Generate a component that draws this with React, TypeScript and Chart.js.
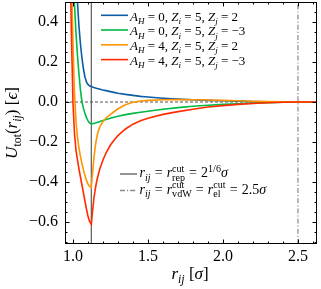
import { useEffect, useRef } from 'react';
import { Chart, registerables } from 'chart.js';

Chart.register(...registerables);

const FONT = "'Liberation Serif', 'DejaVu Serif', serif";

// separation r_ij / sigma
const r = [0.96, 0.97, 0.98, 0.99, 1.0, 1.01, 1.02, 1.03, 1.04, 1.05, 1.06, 1.07, 1.08, 1.09, 1.1, 1.11, 1.1225,
  1.13, 1.14, 1.15, 1.16, 1.17, 1.18, 1.2, 1.22, 1.25, 1.28, 1.3, 1.35, 1.4, 1.45, 1.5, 1.6, 1.7, 1.8, 1.9,
  2.0, 2.1, 2.2, 2.3, 2.4, 2.5, 2.65];

// A_H = 0, Z_i = 5, Z_j = 2
const uBlue = [2.5, 2.0, 1.65, 1.33, 1.07, 0.84, 0.65, 0.5, 0.38, 0.29, 0.22, 0.165, 0.125, 0.1, 0.088, 0.081, 0.077,
  0.0745, 0.072, 0.07, 0.068, 0.066, 0.064, 0.06, 0.057, 0.052, 0.047, 0.044, 0.038, 0.033, 0.028, 0.025, 0.019,
  0.0145, 0.011, 0.0083, 0.006, 0.0042, 0.0027, 0.0015, 0.0007, 0, 0];
// A_H = 0, Z_i = 5, Z_j = -3
const uGreen = [1.7, 1.35, 1.07, 0.84, 0.65, 0.49, 0.35, 0.235, 0.14, 0.06, 0.0, -0.032, -0.058, -0.078, -0.093, -0.104, -0.11,
  -0.1085, -0.107, -0.105, -0.1025, -0.1, -0.0975, -0.093, -0.088, -0.081, -0.075, -0.071, -0.063, -0.057, -0.051, -0.046,
  -0.036, -0.028, -0.021, -0.016, -0.012, -0.0085, -0.0055, -0.003, -0.0013, 0, 0];
// A_H = 4, Z_i = 5, Z_j = 2
const uOrange = [1.9, 1.45, 1.02, 0.62, 0.3, 0.05, -0.095, -0.175, -0.23, -0.272, -0.308, -0.34, -0.368, -0.392, -0.41, -0.421, -0.4275,
  -0.36, -0.28, -0.215, -0.172, -0.143, -0.123, -0.098, -0.08, -0.062, -0.045, -0.034, -0.014, -0.001, 0.005, 0.008,
  0.011, 0.012, 0.0115, 0.01, 0.008, 0.006, 0.004, 0.0025, 0.001, 0, 0];
// A_H = 4, Z_i = 5, Z_j = -3
const uRed = [1.8, 1.25, 0.74, 0.33, 0.0, -0.155, -0.24, -0.29, -0.335, -0.375, -0.415, -0.455, -0.495, -0.535, -0.57, -0.596, -0.6125,
  -0.55, -0.48, -0.43, -0.39, -0.36, -0.333, -0.29, -0.255, -0.215, -0.185, -0.168, -0.135, -0.111, -0.094, -0.081,
  -0.062, -0.048, -0.036, -0.025, -0.018, -0.012, -0.007, -0.0035, -0.0012, 0, 0];

const aH = [0, 0, 4, 4];
const zI = [5, 5, 5, 5];
const zJ = [2, -3, 2, -3];
const seriesColors = ['#0C5DA5', '#00B945', '#FF9500', '#FF2C00'];

const rCutRep = Math.pow(2, 1 / 6);
const rCutLong = 2.5;

const xMin = 0.947;
const xMax = 2.627;
const yMin = -0.71;
const yMax = 0.5;
const xTicks = [1.0, 1.5, 2.0, 2.5];
const xTickLabels = ['1.0', '1.5', '2.0', '2.5'];
const yTicks = [-0.6, -0.4, -0.2, 0.0, 0.2, 0.4];
const yTickLabels = ['\u22120.6', '\u22120.4', '\u22120.2', '0.0', '0.2', '0.4'];
const xMinorStep = 0.1;
const yMinorStep = 0.05;

type Seg = { t: string; it?: boolean; lv?: number; stack?: boolean; pad?: number };

function drawMath(ctx: CanvasRenderingContext2D, segs: Seg[], x: number, y: number, size: number,
  align: 'left' | 'center', scr = 0.7) {
  const items: { t: string; font: string; x: number; dy: number }[] = [];
  let cx = 0;
  let pendingW = -1;
  for (const s of segs) {
    const fs = s.lv ? size * scr : size;
    const font = `${s.it ? 'italic ' : ''}${fs.toFixed(2)}px ${FONT}`;
    ctx.font = font;
    const w = ctx.measureText(s.t).width;
    const dy = s.lv === 1 ? -size * 0.4 : s.lv === -1 ? size * 0.25 : 0;
    const pad = s.pad || 0;
    cx += pad;
    items.push({ t: s.t, font, x: cx, dy });
    if (s.stack) pendingW = w;
    else if (pendingW >= 0) { cx += Math.max(w, pendingW); pendingW = -1; }
    else cx += w;
    cx += pad;
  }
  const x0 = align === 'center' ? x - cx / 2 : x;
  ctx.textAlign = 'left';
  ctx.textBaseline = 'alphabetic';
  for (const it of items) {
    ctx.font = it.font;
    ctx.fillText(it.t, x0 + it.x, y + it.dy);
  }
  return cx;
}

const fmt = (v: number) => (v < 0 ? '\u2212' + Math.abs(v) : String(v));

const legendRows: Seg[][] = aH.map((a, i) => [
  { t: 'A', it: true }, { t: 'H', it: true, lv: -1 }, { t: ' = ' + fmt(a) + ', ' },
  { t: 'Z', it: true }, { t: 'i', it: true, lv: -1 }, { t: ' = ' + fmt(zI[i]) + ', ' },
  { t: 'Z', it: true }, { t: 'j', it: true, lv: -1 }, { t: ' = ' + fmt(zJ[i]) },
]);

const EQ: Seg = { t: ' = ', pad: 0.6 };
const cutRows: Seg[][] = [
  [{ t: 'r', it: true }, { t: 'ij', it: true, lv: -1 }, EQ, { t: 'r', it: true },
    { t: 'cut', lv: 1, stack: true }, { t: 'rep', lv: -1 }, EQ, { t: '2' }, { t: '1/6', lv: 1 }, { t: '\u03c3', it: true }],
  [{ t: 'r', it: true }, { t: 'ij', it: true, lv: -1 }, EQ, { t: 'r', it: true },
    { t: 'cut', lv: 1, stack: true }, { t: 'vdW', lv: -1 }, EQ, { t: 'r', it: true },
    { t: 'cut', lv: 1, stack: true }, { t: 'el', lv: -1 }, EQ, { t: String(rCutLong) }, { t: '\u03c3', it: true }],
];

const decor = {
  id: 'decor',
  afterDraw(chart: any) {
    const { ctx, chartArea: a, scales } = chart;
    const xs = scales.x;
    const ys = scales.y;
    ctx.save();
    ctx.setLineDash([]);

    // legend of the curves
    const l1Lines = [15.3, 30.0, 44.8, 59.6];
    legendRows.forEach((row, i) => {
      ctx.fillStyle = seriesColors[i];
      ctx.fillRect(101, l1Lines[i] - 0.8, 27, 1.6);
    });
    ctx.fillStyle = '#000';
    legendRows.forEach((row, i) => drawMath(ctx, row, 130, l1Lines[i] + 5.3, 13, 'left'));

    // legend of the cut-off lines
    const l2Lines = [174, 190.5];
    const l2Dash = [[], [5, 2, 1.2, 2]];
    const l2Col = ['#5b5b5b', '#8a8a8a'];
    cutRows.forEach((row, i) => {
      ctx.beginPath();
      ctx.strokeStyle = l2Col[i];
      ctx.lineWidth = 1.3;
      ctx.setLineDash(l2Dash[i]);
      ctx.moveTo(120, l2Lines[i]);
      ctx.lineTo(137, l2Lines[i]);
      ctx.stroke();
    });
    ctx.setLineDash([]);
    ctx.fillStyle = '#000';
    cutRows.forEach((row, i) => drawMath(ctx, row, 139.5, l2Lines[i] + 3.4, 14, 'left', 0.72));

    // frame and inward ticks
    ctx.strokeStyle = '#000';
    ctx.lineWidth = 1;
    ctx.strokeRect(a.left + 0.5, a.top + 0.5, a.right - a.left - 1, a.bottom - a.top - 1);
    const MAJ = 4.5;
    const MIN = 2.5;
    ctx.beginPath();
    const xTick = (v: number, len: number) => {
      const p = Math.round(xs.getPixelForValue(v)) + 0.5;
      if (p < a.left + 1 || p > a.right - 1) return;
      ctx.moveTo(p, a.bottom); ctx.lineTo(p, a.bottom - len);
      ctx.moveTo(p, a.top); ctx.lineTo(p, a.top + len);
    };
    const yTick = (v: number, len: number) => {
      const p = Math.round(ys.getPixelForValue(v)) + 0.5;
      if (p < a.top + 1 || p > a.bottom - 1) return;
      ctx.moveTo(a.left, p); ctx.lineTo(a.left + len, p);
      ctx.moveTo(a.right, p); ctx.lineTo(a.right - len, p);
    };
    xTicks.forEach((v) => xTick(v, MAJ));
    for (let k = Math.ceil(xMin / xMinorStep); k * xMinorStep <= xMax; k++) {
      const v = k * xMinorStep;
      if (xTicks.some((t) => Math.abs(t - v) < 1e-6)) continue;
      xTick(v, MIN);
    }
    yTicks.forEach((v) => yTick(v, MAJ));
    for (let k = Math.ceil(yMin / yMinorStep); k * yMinorStep <= yMax + 1e-9; k++) {
      const v = k * yMinorStep;
      if (yTicks.some((t) => Math.abs(t - v) < 1e-6)) continue;
      yTick(v, MIN);
    }
    ctx.stroke();
    ctx.beginPath();

    // axis titles
    ctx.fillStyle = '#000';
    drawMath(ctx, [{ t: 'r', it: true }, { t: 'ij', it: true, lv: -1 }, { t: ' [' }, { t: '\u03c3', it: true }, { t: ']' }],
      (a.left + a.right) / 2 - 1, 279, 17, 'center');
    ctx.save();
    ctx.translate(16.5, (a.top + a.bottom) / 2);
    ctx.rotate(-Math.PI / 2);
    drawMath(ctx, [{ t: 'U', it: true }, { t: 'tot', lv: -1 }, { t: '(' }, { t: 'r', it: true }, { t: 'ij', it: true, lv: -1 },
      { t: ') [' }, { t: '\u03f5', it: true }, { t: ']' }], 0, 0, 17, 'center');
    ctx.restore();
    ctx.restore();
  },
};

const noPad = (s: any) => {
  s.paddingTop = 0;
  s.paddingBottom = 0;
  s.paddingLeft = 0;
  s.paddingRight = 0;
};

export default function App() {
  const ref = useRef<HTMLCanvasElement>(null);
  useEffect(() => {
    if (!ref.current) return;
    const curves = [uBlue, uGreen, uOrange, uRed];
    const curveSets = curves.map((u, i) => ({
      data: r.map((x, k) => ({ x, y: u[k] })),
      borderColor: seriesColors[i],
      borderWidth: 1.6,
      pointRadius: 0,
      tension: 0,
      fill: false,
      order: 3 - i,
    }));
    const refSets = [
      { data: [{ x: xMin, y: 0 }, { x: xMax, y: 0 }], borderColor: '#555555', borderWidth: 1.1, borderDash: [3, 2], pointRadius: 0, order: 10 },
      { data: [{ x: rCutRep, y: yMin }, { x: rCutRep, y: yMax }], borderColor: '#5b5b5b', borderWidth: 1.2, pointRadius: 0, order: 11 },
      { data: [{ x: rCutLong, y: yMin }, { x: rCutLong, y: yMax }], borderColor: '#8a8a8a', borderWidth: 1.2, borderDash: [5, 2, 1.2, 2], pointRadius: 0, order: 12 },
    ];
    const chart = new Chart(ref.current, {
      type: 'line',
      data: { datasets: [...curveSets, ...refSets] as any },
      options: {
        animation: false,
        responsive: false,
        devicePixelRatio: 1,
        events: [],
        layout: { padding: { left: 0, right: 4, top: 2, bottom: 0 } },
        plugins: { legend: { display: false }, tooltip: { enabled: false } },
        scales: {
          x: {
            type: 'linear',
            min: xMin,
            max: xMax,
            grid: { display: false, drawTicks: false },
            border: { display: false },
            afterBuildTicks: (s: any) => { s.ticks = xTicks.map((v) => ({ value: v })); },
            afterFit: (s: any) => { s.height = 45; noPad(s); },
            ticks: {
              autoSkip: false,
              maxRotation: 0,
              padding: 3,
              color: '#000',
              font: { family: FONT, size: 16 },
              callback: (v: any) => xTickLabels[xTicks.findIndex((t) => Math.abs(t - v) < 1e-9)],
            },
          },
          y: {
            type: 'linear',
            min: yMin,
            max: yMax,
            grid: { display: false, drawTicks: false },
            border: { display: false },
            afterBuildTicks: (s: any) => { s.ticks = yTicks.map((v) => ({ value: v })); },
            afterFit: (s: any) => { s.width = 65; noPad(s); },
            ticks: {
              autoSkip: false,
              padding: 7,
              color: '#000',
              font: { family: FONT, size: 16 },
              callback: (v: any) => yTickLabels[yTicks.findIndex((t) => Math.abs(t - v) < 1e-9)],
            },
          },
        },
      },
      plugins: [decor],
    });
    return () => chart.destroy();
  }, []);
  return (
    <div style={{ position: 'fixed', left: 0, top: 0, width: 321, height: 289 }}>
      <canvas ref={ref} width={321} height={289} style={{ display: 'block', width: 321, height: 289 }} />
    </div>
  );
}
